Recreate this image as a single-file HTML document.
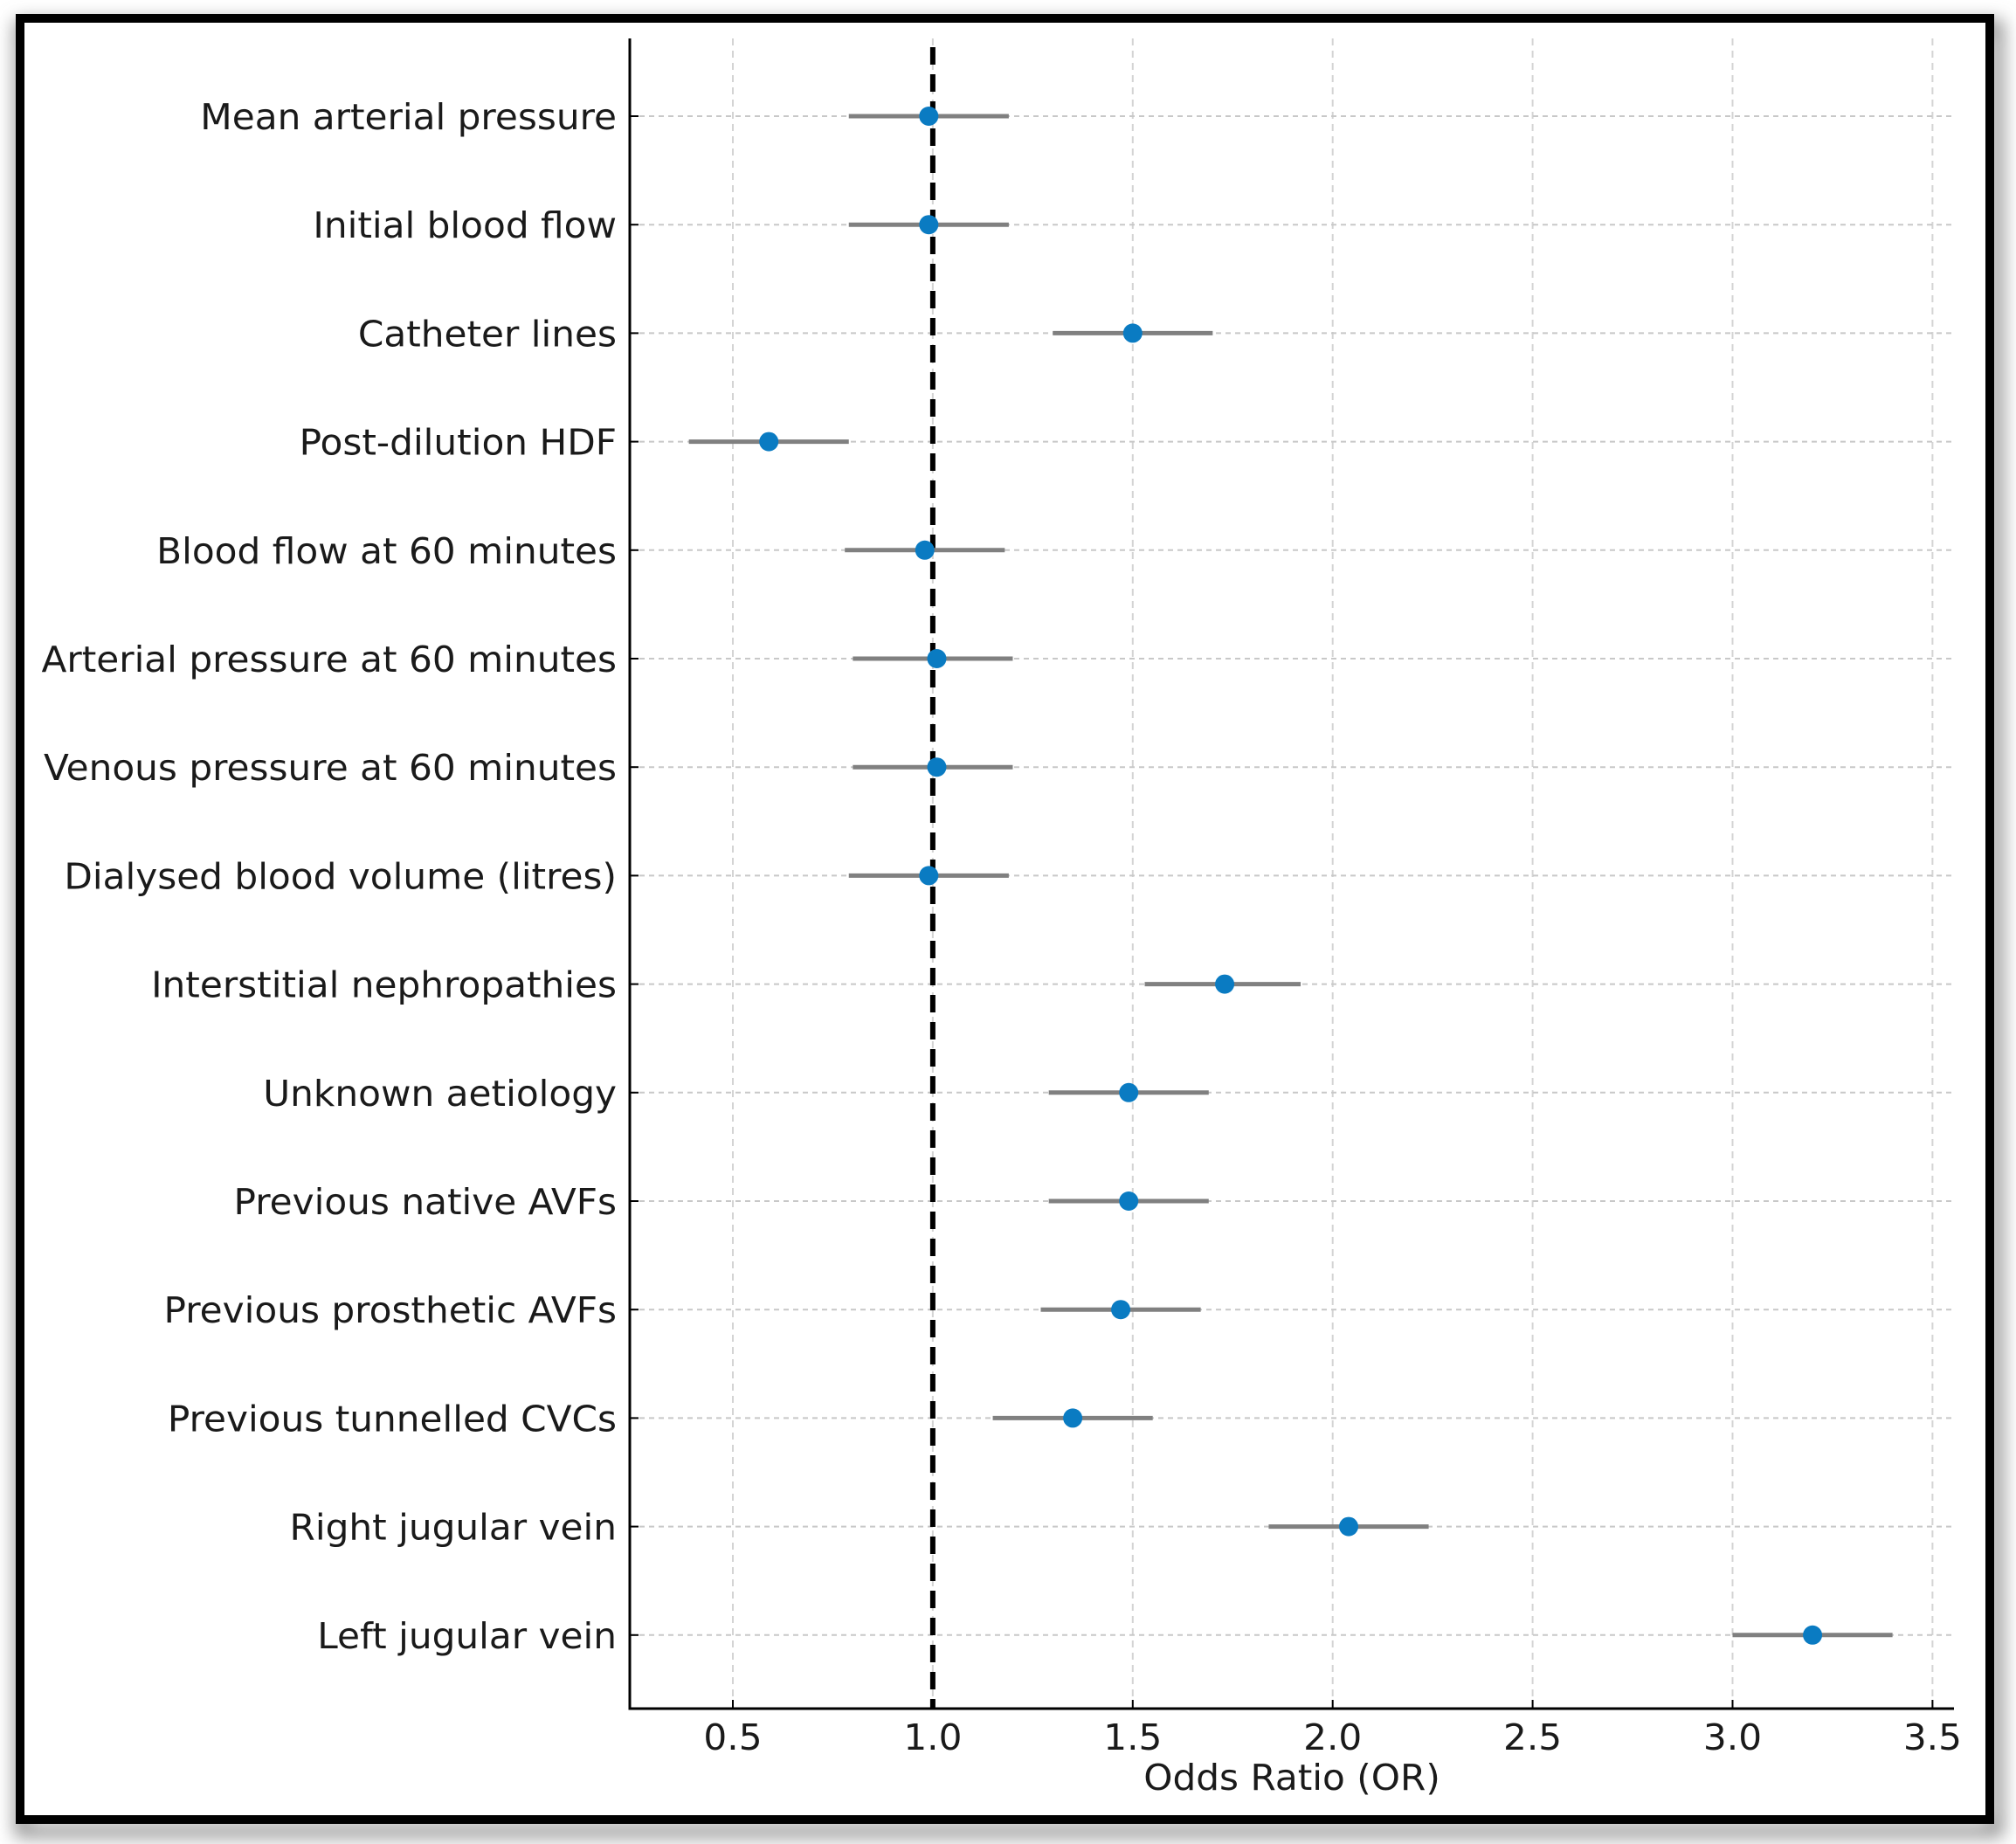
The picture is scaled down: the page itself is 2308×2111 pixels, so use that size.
<!DOCTYPE html>
<html><head><meta charset="utf-8"><style>
html,body{margin:0;padding:0;background:#fff;}
svg{display:block;}
text{font-family:"DejaVu Sans","Liberation Sans",sans-serif;fill:#1a1a1a;}
</style></head><body>
<svg id="chart" width="2308" height="2111" viewBox="0 0 2308 2111">
  <defs>
    <filter id="sh" x="-5%" y="-5%" width="110%" height="110%">
      <feGaussianBlur stdDeviation="10"/>
    </filter>
  </defs>
  <rect x="24" y="30" width="2262" height="2066" fill="none" stroke="#888" stroke-width="14" filter="url(#sh)"/>
  <rect x="23" y="21" width="2255" height="2062" fill="#fff" stroke="#000" stroke-width="10"/>
  <g id="grid"></g>
  <g id="marks"></g>
  <g id="axes"></g>
</svg>
<script>
const categories = ["Mean arterial pressure","Initial blood flow","Catheter lines","Post-dilution HDF","Blood flow at 60 minutes","Arterial pressure at 60 minutes","Venous pressure at 60 minutes","Dialysed blood volume (litres)","Interstitial nephropathies","Unknown aetiology","Previous native AVFs","Previous prosthetic AVFs","Previous tunnelled CVCs","Right jugular vein","Left jugular vein"];
const orValues = [0.99,0.99,1.50,0.59,0.98,1.01,1.01,0.99,1.73,1.49,1.49,1.47,1.35,2.04,3.20];
const ciLow = [0.79,0.79,1.30,0.39,0.78,0.80,0.80,0.79,1.53,1.29,1.29,1.27,1.15,1.84,3.00];
const ciHigh = [1.19,1.19,1.70,0.79,1.18,1.20,1.20,1.19,1.92,1.69,1.69,1.67,1.55,2.24,3.40];
const xTicks = [0.5,1.0,1.5,2.0,2.5,3.0,3.5];
const xTickLabels = ["0.5","1.0","1.5","2.0","2.5","3.0","3.5"];
const refValue = 1.0;

const NS="http://www.w3.org/2000/svg";
const L=721,R=2237,T=44,B=1956;
const xs=v=>839+(v-0.5)*457.8;
const ys=i=>133+i*124.2;
function mk(tag,attrs,parent){const e=document.createElementNS(NS,tag);for(const k in attrs)e.setAttribute(k,attrs[k]);parent.appendChild(e);return e;}
const grid=document.getElementById('grid'),marks=document.getElementById('marks'),axes=document.getElementById('axes');
const SX=1.03;

xTicks.forEach((t,i)=>{
  const g=mk('line',{x1:xs(t),x2:xs(t),y1:T,y2:B,stroke:'#d4d4d4','stroke-width':2,'stroke-dasharray':'8,6'},grid);
  
  
  const tk=mk('line',{x1:xs(t),x2:xs(t),y1:B,y2:B-10,stroke:'#000','stroke-width':2},axes);
  
  
  const tl=mk('text',{x:0,y:0,transform:`translate(${xs(t)},${B+47}) scale(${SX},1)`,'text-anchor':'middle','font-size':41},axes);
  tl.textContent=xTickLabels[i];
  
  
});
categories.forEach((c,i)=>{
  const y=ys(i);
  const g=mk('line',{x1:L,x2:R,y1:y,y2:y,stroke:'#c8c8c8','stroke-width':2,'stroke-dasharray':'6,5'},grid);
  
  
  const tk=mk('line',{x1:L,x2:L+10,y1:y,y2:y,stroke:'#000','stroke-width':2},axes);
  
  
  const tl=mk('text',{x:0,y:0,transform:`translate(${L-15},${y+15}) scale(${SX},1)`,'text-anchor':'end','font-size':41},axes);
  tl.textContent=c;
  
  
});
const ref=mk('line',{x1:xs(refValue),x2:xs(refValue),y1:T+10,y2:B,stroke:'#000','stroke-width':6,'stroke-dasharray':'20,11'},marks);


categories.forEach((c,i)=>{
  const y=ys(i);
  const ci=mk('line',{x1:xs(ciLow[i]),x2:xs(ciHigh[i]),y1:y,y2:y,stroke:'#808080','stroke-width':5},marks);
  
  
  const d=mk('circle',{cx:xs(orValues[i]),cy:y,r:11,fill:'#0a7bc2'},marks);
  
  
});
const ya=mk('line',{x1:L,x2:L,y1:T,y2:B+1.5,stroke:'#000','stroke-width':3},axes);


const xa=mk('line',{x1:L-1.5,x2:R,y1:B,y2:B,stroke:'#000','stroke-width':3},axes);


const xt=mk('text',{x:0,y:0,transform:`translate(${(L+R)/2},2049) scale(${SX},1)`,'text-anchor':'middle','font-size':41},axes);
xt.textContent='Odds Ratio (OR)';


</script>
</body></html>
